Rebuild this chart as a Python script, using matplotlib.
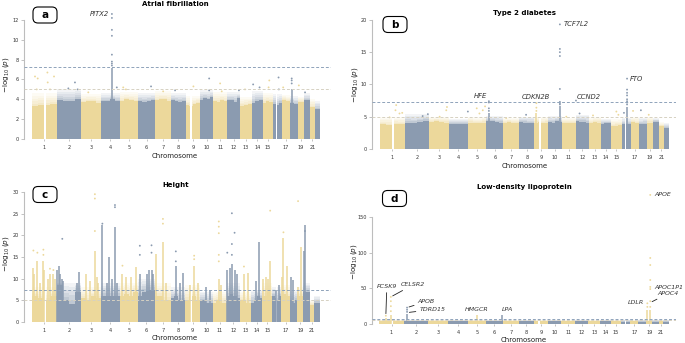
import numpy as np
import matplotlib
matplotlib.use("Agg")
import matplotlib.pyplot as plt
from matplotlib.patches import FancyBboxPatch
from matplotlib.transforms import IdentityTransform

# ---------------------------------------------------------------- genome
CHROM_LEN = [249.25, 243.20, 198.02, 191.15, 180.92, 171.12, 159.14, 146.36,
             141.21, 135.53, 135.01, 133.85, 115.17, 107.35, 102.53, 90.35,
             81.20, 78.08, 59.13, 63.03, 48.13, 51.30]
TICK_CHROMS = [1, 2, 3, 4, 5, 6, 7, 8, 9, 10, 11, 12, 13, 14, 15, 17, 19, 21]
# centromere / heterochromatin gaps (chrom, start Mb, end Mb)
GAPS = [(1, 124, 142), (9, 45, 66), (16, 36, 46)]

# ---------------------------------------------------------------- a: atrial fibrillation
af_core = [[3.3, 3.4, 3.4, 3.5], [3.9, 3.8, 3.8, 4.0], [3.7, 3.8, 3.8, 3.6],
           [3.8, 3.8, 4.0, 3.8], [3.8, 4.0, 3.9, 3.8], [3.8, 3.7, 3.8, 3.9],
           [3.9, 4.0, 4.0, 3.8], [3.9, 3.8, 3.7, 3.8], [3.4, 3.3, 3.5, 3.6],
           [3.9, 4.1, 4.0, 4.2], [3.8, 3.7, 3.9, 3.8], [3.9, 3.9, 3.7, 4.1],
           [3.3, 3.4, 3.5], [3.6, 3.8, 3.9], [3.6, 3.8, 3.7], [3.5, 3.4, 3.6],
           [3.9, 3.8], [3.6, 3.5], [3.7], [3.9], [3.2], [3.0]]
af_fringe = [4.6, 5.0, 4.5, 4.6, 4.7, 4.6, 4.8, 4.6, 4.3, 4.9, 4.7,
             4.7, 4.2, 4.8, 4.6, 4.5, 4.4, 4.3, 4.2, 4.6, 4.0, 3.8]
af_towers = [(4, 111, 7.2), (18, 17, 5.0)]
af_dots = [(1, 33, 6.3), (1, 60, 6.1), (1, 50, 5.0), (1, 157, 6.7), (1, 160, 5.7),
           (1, 183, 5.0), (1, 223, 6.3), (2, 183, 5.7), (2, 117, 5.1), (2, 210, 5.0),
           (3, 73, 4.7), (4, 111, 12.6), (4, 111, 12.2), (4, 111, 11.0),
           (4, 111, 10.4), (4, 111, 8.5), (4, 111, 7.8), (4, 111, 7.6),
           (4, 111, 7.4), (4, 160, 5.2), (5, 33, 5.2), (5, 60, 5.0), (6, 130, 5.3),
           (7, 80, 4.8), (8, 40, 4.9), (9, 77, 5.3), (10, 93, 6.1), (10, 93, 4.9),
           (11, 67, 5.6), (11, 83, 4.8), (12, 120, 4.9), (13, 47, 5.0),
           (14, 13, 5.5), (14, 77, 5.2), (15, 67, 5.9), (15, 60, 5.2),
           (16, 57, 6.2), (16, 60, 5.0), (17, 13, 5.2), (18, 17, 6.1),
           (18, 17, 5.9), (18, 17, 5.6), (19, 10, 5.4), (20, 13, 4.7)]
af_genes = [("PITX2", 4, 111, 12.6, -3, 0, "right", False)]

# ---------------------------------------------------------------- b: type 2 diabetes
t2d_core = [[3.8, 3.7, 3.9, 3.8], [4.1, 4.0, 4.2, 4.4], [4.2, 4.3, 4.2, 4.1],
            [3.8, 3.9, 3.8, 3.9], [4.1, 4.0, 4.0, 4.1], [4.4, 4.3, 4.2, 4.1],
            [4.0, 4.2, 4.1, 4.0], [4.2, 4.1, 4.0, 4.0], [4.1, 4.2, 4.0, 4.1],
            [4.2, 4.1, 4.3, 4.2], [4.0, 4.1, 4.0, 4.0], [4.3, 4.2, 4.2, 4.0],
            [4.0, 4.2, 4.1], [3.9, 4.0, 4.0], [3.5, 3.6, 3.7], [3.8, 3.9, 3.8],
            [4.2, 4.0], [3.8, 3.9], [4.1], [4.2], [3.5], [3.3]]
t2d_fringe = [4.9, 5.4, 5.0, 4.6, 4.9, 5.1, 4.8, 5.0, 5.0, 5.1, 4.8,
              5.3, 4.9, 4.6, 4.6, 4.8, 5.0, 4.8, 5.0, 4.8, 4.2, 4.0]
t2d_towers = [(6, 26, 5.6), (9, 22, 5.5), (10, 114.7, 6.6), (16, 53.8, 6.5)]
t2d_dots = [(1, 166, 6.8), (1, 159, 6.0), (1, 199, 5.5), (1, 226, 5.6), (1, 100, 4.9),
            (2, 232, 5.4), (2, 180, 5.1), (3, 179, 6.5), (3, 172, 6.0), (3, 106, 5.0),
            (4, 189, 5.8), (5, 86, 6.3), (5, 169, 6.6), (5, 146, 6.0), (5, 113, 5.5),
            (6, 26, 7.4), (6, 26, 7.2), (6, 26, 6.3), (6, 26, 5.9), (7, 27, 4.8),
            (8, 66, 5.3), (9, 22, 7.1), (9, 22, 6.4), (9, 22, 5.9),
            (10, 114.7, 19.3), (10, 114.7, 15.5), (10, 114.7, 15.0),
            (10, 114.7, 14.4), (10, 114.7, 9.3), (10, 114.7, 7.3),
            (10, 114.7, 7.1), (10, 114.7, 6.9), (11, 43, 5.0), (12, 4.4, 7.5),
            (12, 40, 5.5), (13, 40, 5.2), (15, 50, 5.8), (15, 70, 5.3),
            (16, 53.8, 10.9), (16, 53.8, 9.2), (16, 53.8, 8.7), (16, 53.8, 8.3),
            (16, 53.8, 7.7), (16, 53.8, 7.4), (16, 53.8, 7.2), (16, 53.8, 6.9),
            (16, 23, 5.6), (17, 23, 5.9), (18, 20, 6.0), (19, 20, 5.3)]
t2d_genes = [("TCF7L2", 10, 114.7, 19.3, 4, 0, "left", False),
             ("FTO", 16, 53.8, 10.9, 3, 0, "left", False),
             ("HFE", 6, 26, 7.4, -8, 5, "center", False),
             ("CDKN2B", 9, 22, 7.1, -1, 6, "center", False),
             ("CCND2", 12, 4.4, 7.5, 13, 4, "center", False)]

# ---------------------------------------------------------------- c: height
ht_core = [[6, 5.5, 5, 6], [8.5, 5, 4.2, 7], [5.5, 5, 6, 5.5], [6, 6, 6, 6],
           [6, 6.5, 6, 7], [6, 7, 7.5, 7.5], [6, 6, 5, 5], [5.5, 6, 5, 5],
           [5, 6, 6, 5], [5, 5, 4.5, 4.5], [4.5, 5, 4.5, 4.5], [6, 6.5, 6, 5.5],
           [5, 5, 4.5, 4.5], [4.5, 5, 6, 5.5], [6, 6, 7, 6], [6, 5.5, 5, 6],
           [6, 6.5, 6, 6], [5, 5, 4.5, 5], [6, 6], [7, 7], [4], [4.5]]
ht_fringe = [8, 9, 8, 9, 9, 10, 9, 8, 8.5, 7, 7, 9, 7, 7.5, 9, 8, 8.5, 7.5, 8, 9, 5, 6]
ht_towers = [(1, 17, 12.5), (1, 27, 11), (1, 57, 14), (1, 83, 9), (1, 117, 14),
             (1, 127, 12), (1, 160, 10), (1, 183, 11), (1, 217, 11), (1, 233, 10),
             (2, 7, 12), (2, 20, 12.9), (2, 33, 11), (2, 50, 10), (2, 67, 9.5),
             (2, 207, 9), (2, 220, 11.5), (3, 50, 11), (3, 90, 9.5), (3, 140, 16.5),
             (3, 157, 10.5), (3, 173, 9), (4, 17, 22.5), (4, 67, 9), (4, 87, 15),
             (4, 110, 10), (4, 143, 22), (4, 160, 9), (5, 27, 11), (5, 67, 10.5),
             (5, 117, 10.5), (5, 167, 12.6), (6, 20, 11), (6, 87, 11), (6, 113, 12),
             (6, 137, 12), (6, 153, 11), (7, 7, 15.8), (7, 80, 18.5), (7, 113, 9),
             (8, 50, 13), (8, 90, 9), (8, 123, 11.2), (9, 43, 8.5), (9, 87, 13),
             (9, 127, 9), (10, 67, 8), (10, 100, 7.5), (11, 57, 10), (11, 83, 8.5),
             (12, 7, 12), (12, 30, 12.5), (12, 53, 13.5), (12, 80, 12), (12, 103, 11),
             (13, 40, 11), (13, 80, 11.2), (14, 47, 9.5), (14, 73, 18.5), (15, 7, 10),
             (15, 40, 10.5), (15, 60, 10), (15, 80, 14), (16, 37, 7.5), (16, 63, 8.5),
             (17, 7, 10.5), (17, 20, 19.5), (17, 53, 13), (18, 10, 10.3), (18, 33, 9.8),
             (19, 7, 8), (19, 40, 17.3), (20, 3, 16.5), (20, 17, 22.3)]
ht_dots = [(1, 17, 16.5), (1, 57, 16.0), (1, 117, 16.7), (1, 117, 15.5), (1, 183, 12.3),
           (1, 217, 12.0), (2, 57, 19.2), (3, 140, 29.5), (3, 140, 28.5), (3, 140, 21.0),
           (4, 143, 27.0), (4, 143, 26.5), (4, 17, 22.7), (5, 27, 13.0), (6, 20, 15.5),
           (6, 20, 17.6), (6, 137, 16.0), (6, 137, 17.7), (7, 80, 22.7), (7, 80, 23.8),
           (8, 50, 14.0), (8, 50, 16.3), (9, 87, 14.5), (9, 87, 15.3), (11, 57, 14.0),
           (11, 57, 15.5), (11, 57, 20.5), (11, 57, 22.0), (11, 57, 23.2), (12, 7, 16.0),
           (12, 53, 15.5), (12, 53, 18.0), (12, 53, 25.1), (12, 80, 20.6), (13, 40, 12.8),
           (15, 80, 25.7), (17, 20, 20.7), (19, 7, 27.9), (20, 17, 21.0)]
ht_genes = []

# ---------------------------------------------------------------- d: LDL
ldl_core = [[4.5], [3.8], [4.2], [3.8], [4.2], [3.8], [4.0], [3.6], [3.8], [3.6], [4.0],
            [3.6], [3.8], [3.6], [3.8], [3.5], [3.8], [3.5], [4.0], [3.5], [3.8], [3.5]]
ldl_fringe = [6.0] * 22
ldl_towers = [(1, 68, 8), (1, 118, 12), (2, 30, 14), (5, 92, 12), (6, 166, 12),
              (19, 11, 20), (19, 40, 20)]
ldl_dots = [(1, 68, 11.6), (1, 118, 38), (1, 118, 32), (1, 118, 25), (1, 118, 18),
            (2, 30, 23), (2, 30, 20), (2, 30, 17), (19, 11, 29), (19, 11, 24),
            (19, 40, 181), (19, 40, 92.6), (19, 40, 82.7), (19, 40, 61.7),
            (19, 40, 52), (19, 40, 49), (19, 40, 32), (19, 40, 24)]
ldl_genes = [("PCSK9", 1, 68, 11.6, 1, 29, "center", True),
             ("CELSR2", 1, 118, 38, 22, 12, "center", True),
             ("APOB", 2, 30, 23, 19, 6, "center", True),
             ("TDRD15", 2, 32, 16, 25, 3, "center", True),
             ("HMGCR", 5, 92, 12, 0, 6, "center", False),
             ("LPA", 6, 166, 12, 5, 6, "center", False),
             ("LDLR", 19, 11, 29, -11, 1, "center", False),
             ("APOE", 19, 40, 181, 4, 0, "left", False),
             ("APOC1P1", 19, 40, 50, 4, 1, "left", False),
             ("APOC4", 19, 40, 30, 7, 9, "left", True)]

# ---------------------------------------------------------------- style
W, H = 685, 343
YELLOW = "#ecd89b"
BLUE = "#8b9bb0"
SIG_COLOR = "#8fa3ba"
SUG_COLOR = "#d6d1c2"
FADE_ALPHAS = [0.55, 0.42, 0.3, 0.2, 0.1]

CUM = np.concatenate([[0], np.cumsum(CHROM_LEN)])
GENOME = CUM[-1]


def gx(chrom, pos):
    return CUM[chrom - 1] + pos


def chrom_color(chrom):
    return YELLOW if chrom % 2 == 1 else BLUE


fig = plt.figure(figsize=(W / 100, H / 100), dpi=100)
fig.patch.set_facecolor("white")


def make_axes(left, right, top, bottom, data0, data1):
    ax = fig.add_axes([left / W, 1 - bottom / H, (right - left) / W, (bottom - top) / H])
    scale = (data1 - data0) / GENOME
    ax.set_xlim((left - data0) / scale, (right - data0) / scale)
    return ax


def draw_manhattan(ax, core, fringe, towers, dots):
    n_fade = len(FADE_ALPHAS)
    for i in range(22):
        c = i + 1
        col = chrom_color(c)
        segs = np.asarray(core[i], dtype=float)
        edges = CUM[i] + CHROM_LEN[i] * np.arange(len(segs) + 1) / len(segs)
        heights = np.append(segs, segs[-1])
        ax.fill_between(edges, 0, heights, step="post", color=col, lw=0, zorder=2)
        # thinning cloud of points above the dense body, drawn as a fading band
        span = np.maximum(fringe[i] - heights, 0)
        for k, a in enumerate(FADE_ALPHAS):
            lo = heights + span * k / n_fade
            hi = heights + span * (k + 1) / n_fade
            ax.fill_between(edges, lo, hi, step="post", color=col, alpha=a,
                            lw=0, zorder=2)
    for c, s, e in GAPS:
        ax.fill_between([gx(c, s), gx(c, e)], 0, fringe[c - 1] + 0.2,
                        color="white", lw=0, zorder=2.5)
    if towers:
        tx = [gx(c, p) for c, p, _ in towers]
        tt = [v for _, _, v in towers]
        tc = [chrom_color(c) for c, _, _ in towers]
        ax.vlines(tx, 0, tt, colors=tc, lw=1.1, zorder=3)
    if dots:
        dx = [gx(c, p) for c, p, _ in dots]
        dv = [v for _, _, v in dots]
        dc = [chrom_color(c) for c, _, _ in dots]
        ax.scatter(dx, dv, s=1.8, c=dc, lw=0, zorder=4)


def style_axes(ax, ytop, yticks):
    ax.set_ylim(0, ytop)
    ax.set_facecolor("none")
    for side in ("top", "right", "bottom"):
        ax.spines[side].set_visible(False)
    ax.spines["left"].set_color("#bdbdbd")
    ax.spines["left"].set_linewidth(0.8)
    ax.spines["left"].set_bounds(yticks[0], yticks[-1])
    ax.set_yticks(yticks)
    ax.tick_params(axis="y", length=2, width=0.5, color="#aaaaaa",
                   labelsize=3.6, labelcolor="#333333", pad=1.5)
    mids = [CUM[c - 1] + CHROM_LEN[c - 1] / 2 for c in TICK_CHROMS]
    ax.set_xticks(mids)
    ax.set_xticklabels([str(c) for c in TICK_CHROMS])
    ax.tick_params(axis="x", length=1.5, width=0.5, color="#aaaaaa",
                   labelsize=3.6, labelcolor="#333333", pad=2.5)
    ax.axhline(7.3, color=SIG_COLOR, lw=0.7, ls=(0, (3, 2)), zorder=5)
    ax.axhline(5.0, color=SUG_COLOR, lw=0.7, ls=(0, (3, 2)), zorder=5)


def label_genes(ax, genes, size):
    for name, c, p, v, dx, dy, ha, line in genes:
        kw = dict(xy=(gx(c, p), v), xytext=(dx, dy), textcoords="offset pixels",
                  ha=ha, va="center", fontsize=size, style="italic",
                  color="#333333", zorder=6, annotation_clip=False)
        if line:
            kw["arrowprops"] = dict(arrowstyle="-", color="#222222", lw=0.6,
                                    shrinkA=0.5, shrinkB=1.5)
        ax.annotate(name, **kw)


def decorate(letter, letter_xy, title, title_xy, xlab_xy, ylab_xy):
    fig.text(title_xy[0] / W, 1 - title_xy[1] / H, title, ha="center", va="center",
             fontsize=5, fontweight="bold", color="black")
    fig.text(xlab_xy[0] / W, 1 - xlab_xy[1] / H, "Chromosome", ha="center",
             va="center", fontsize=5, color="#222222")
    fig.text(ylab_xy[0] / W, 1 - ylab_xy[1] / H, r"$-\log_{10}(p)$", ha="center",
             va="center", rotation=90, fontsize=5.2, color="#222222")
    bw, bh = 24, 16
    cx, cy = letter_xy
    patch = FancyBboxPatch((cx - bw / 2, H - cy - bh / 2), bw, bh,
                           boxstyle="round,pad=0,rounding_size=5",
                           transform=IdentityTransform(), fc="white",
                           ec="black", lw=0.8)
    fig.add_artist(patch)
    fig.text(cx / W, 1 - cy / H, letter, ha="center", va="center",
             fontsize=7.5, fontweight="bold")


panels = [
    dict(box=(24, 331, 10, 139), data=(31.7, 320.0), ytop=13.0,
         yticks=[0, 2, 4, 6, 8, 10, 12], core=af_core, fringe=af_fringe,
         towers=af_towers, dots=af_dots, genes=af_genes, gene_size=4.9, letter="a",
         letter_xy=(45, 15), title="Atrial fibrillation", title_xy=(175, 4),
         xlab_xy=(175, 155.5), ylab_xy=(6, 75)),
    dict(box=(372, 676, 16, 149), data=(379.5, 669.0), ytop=20.6,
         yticks=[0, 5, 10, 15, 20], core=t2d_core, fringe=t2d_fringe,
         towers=t2d_towers, dots=t2d_dots, genes=t2d_genes, gene_size=4.9, letter="b",
         letter_xy=(395, 24.5), title="Type 2 diabetes", title_xy=(524.5, 13),
         xlab_xy=(525, 166), ylab_xy=(355, 85)),
    dict(box=(24, 331, 187.7, 322), data=(31.7, 319.5), ytop=31.0,
         yticks=[0, 5, 10, 15, 20, 25, 30], core=ht_core, fringe=ht_fringe,
         towers=ht_towers, dots=ht_dots, genes=ht_genes, gene_size=4.9, letter="c",
         letter_xy=(45, 194.5), title="Height", title_xy=(176, 185),
         xlab_xy=(175, 338.5), ylab_xy=(6, 254)),
    dict(box=(372, 676, 188.5, 324), data=(379.0, 668.5), ytop=190.0,
         yticks=[0, 50, 100, 150], core=ldl_core, fringe=ldl_fringe,
         towers=ldl_towers, dots=ldl_dots, genes=ldl_genes, gene_size=4.5, letter="d",
         letter_xy=(394.5, 198.5), title="Low-density lipoprotein",
         title_xy=(524, 187), xlab_xy=(524, 340.5), ylab_xy=(354, 262)),
]

for p in panels:
    left, right, top, bottom = p["box"]
    ax = make_axes(left, right, top, bottom, *p["data"])
    draw_manhattan(ax, p["core"], p["fringe"], p["towers"], p["dots"])
    style_axes(ax, p["ytop"], p["yticks"])
    label_genes(ax, p["genes"], p["gene_size"])
    decorate(p["letter"], p["letter_xy"], p["title"], p["title_xy"],
             p["xlab_xy"], p["ylab_xy"])

fig.savefig("out.png", dpi=100, facecolor="white")
